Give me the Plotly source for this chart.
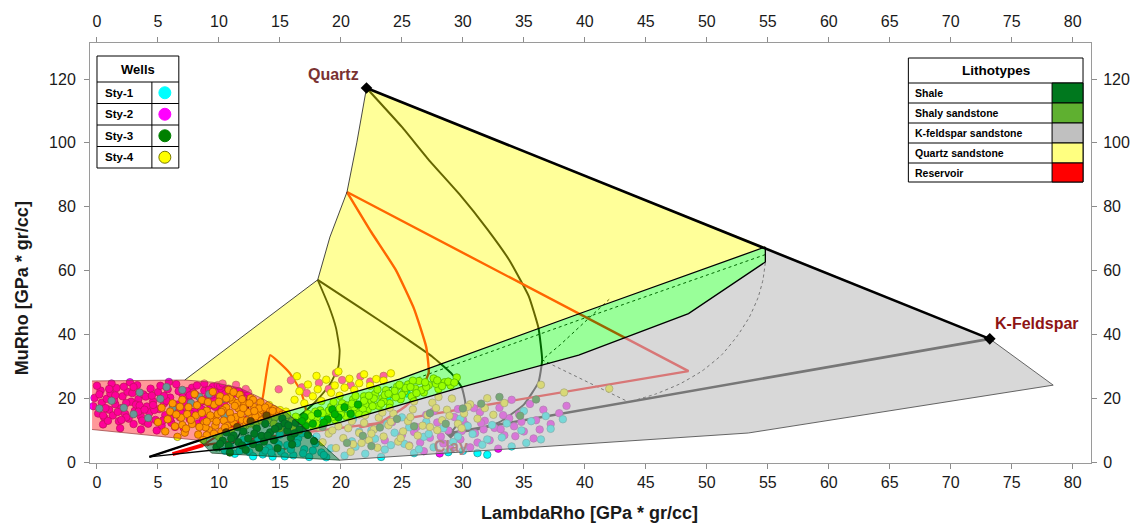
import plotly.graph_objects as go

# ---------------------------------------------------------------
# Mineral end-points in the LambdaRho / MuRho plane (GPa*gr/cc)
# ---------------------------------------------------------------
QUARTZ = (22.1, 117.2)
KFELDSPAR = (73.2, 38.6)
CLAY = (29.0, 9.1)

X_TICKS = list(range(0, 81, 5))
Y_TICKS = list(range(0, 121, 20))

# ---------------------------------------------------------------
# Lithotype polygons
# ---------------------------------------------------------------
reservoir_x = [-0.4, 7.2, 9.5, 11.7, 13.6, 15.5, 8.4, -0.4]
reservoir_y = [25.4, 25.7, 25.0, 23.2, 19.8, 15.7, 6.8, 10.2]

quartz_sand_x = [22.1, 54.8, 39.7, 24.8, 15.5, 13.6, 11.7, 9.5, 7.2, 18.1, 19.1, 20.5, 21.3, 22.1]
quartz_sand_y = [117.2, 67.4, 46.7, 26.0, 15.7, 19.8, 23.2, 25.0, 25.7, 57.1, 70.5, 84.6, 100.0, 117.2]

shaly_sand_x = [54.8, 39.7, 24.8, 15.5, 17.35, 20.0, 29.9, 39.5, 48.5, 54.8]
shaly_sand_y = [67.4, 46.7, 26.0, 15.7, 9.95, 12.5, 23.5, 33.5, 46.5, 62.7]

shale_x = [8.4, 15.5, 19.9, 9.4, 8.4]
shale_y = [6.8, 15.7, 0.6, 2.8, 6.8]

kfeld_sand_x = [54.8, 73.2, 78.4, 53.4, 19.9, 17.35, 20.0, 29.9, 39.5, 48.5, 54.8]
kfeld_sand_y = [67.4, 38.6, 24.1, 9.1, 0.6, 9.95, 12.5, 23.5, 33.5, 46.5, 62.7]

# Boundary lines of the shaly-sandstone wedge
wedge_top_x = [4.3, 8.4, 15.5, 24.8, 39.7, 54.8]
wedge_top_y = [1.6, 6.8, 15.7, 26.0, 46.7, 67.4]
wedge_bot_x = [4.3, 11.1, 17.4, 20.0, 29.9, 39.5, 48.5, 54.8, 54.8]
wedge_bot_y = [1.6, 4.4, 10.0, 12.5, 23.5, 33.5, 46.5, 62.7, 67.4]

# ---------------------------------------------------------------
# Template curves (black / red), partly seen through the fills
# ---------------------------------------------------------------
quartz_clay_x = [22.1, 25.0, 27.2, 29.7, 32.0, 33.8, 35.4, 36.2, 36.5, 36.2, 35.0, 33.0, 31.0, 29.0]
quartz_clay_y = [117.2, 105.0, 94.7, 84.0, 73.0, 63.3, 52.0, 42.0, 32.0, 25.0, 18.0, 12.5, 10.0, 9.1]

mid_clay_x = [18.1, 20.6, 23.1, 25.4, 27.5, 29.0, 29.9, 30.2, 29.9, 29.4, 29.0]
mid_clay_y = [57.1, 50.8, 44.5, 38.6, 33.0, 28.0, 23.5, 18.5, 14.0, 11.0, 9.1]

mid_shale_x = [18.1, 19.0, 19.6, 19.9, 19.8, 19.2, 18.3, 17.2, 15.8, 14.0, 12.0]
mid_shale_y = [57.1, 49.0, 42.0, 35.0, 30.0, 25.0, 20.5, 16.3, 12.5, 9.0, 6.0]

low_curve_x = [11.7, 12.2, 12.4, 12.2, 11.8, 11.2, 10.0]
low_curve_y = [23.2, 20.0, 17.0, 13.0, 9.5, 6.0, 3.5]

kfeld_clay_x = [KFELDSPAR[0], CLAY[0]]
kfeld_clay_y = [KFELDSPAR[1], CLAY[1]]

res_line_x = [20.5, 48.5, 23.1, 8.7]
res_line_y = [84.6, 28.5, 12.2, 5.3]

res_curve_x = [20.5, 22.5, 24.5, 26.0, 27.0, 27.2, 26.5, 25.3, 23.1, 21.5]
res_curve_y = [84.6, 72.0, 60.2, 48.0, 36.0, 28.0, 22.0, 17.5, 12.2, 10.8]

flame_x = [8.7, 11.0, 13.3, 13.6, 13.9, 14.2, 15.0, 15.8, 16.6, 17.0, 17.2, 16.6, 16.0, 14.8]
flame_y = [5.3, 11.0, 17.2, 20.4, 27.9, 33.5, 31.0, 27.9, 23.0, 18.8, 14.1, 9.1, 5.3, 3.2]

res_base_x = [6.2, 8.7]
res_base_y = [2.5, 5.3]

dot_mid_x = [54.8, 39.6, 24.8, 16.0, 9.0]
dot_mid_y = [65.0, 44.6, 24.3, 13.6, 5.0]
dot_arc_x = [54.8, 54.6, 54.2, 53.5, 52.5, 51.2, 49.6, 47.8, 45.8, 43.6]
dot_arc_y = [62.5, 57.0, 51.5, 45.5, 39.5, 33.5, 28.5, 24.5, 21.3, 18.8]
dot_inner_x = [42.0, 40.6, 39.3, 38.0, 36.5, 43.6]
dot_inner_y = [51.0, 46.0, 41.5, 36.8, 32.0, 18.8]

# ---------------------------------------------------------------
# Well log samples (LambdaRho, MuRho)
# ---------------------------------------------------------------
sty1_x = [1.2, 2.2, 3.5, 4.2, 5.2, 6.2, 7.0, 7.7, 8.4, 9.2, 10.3, 11.8, 3.0, 5.7, 0.2, 12.5, 10.5,
          10.5, 11.3, 11.9, 12.5, 13.0, 13.6, 14.1, 14.6, 15.1, 15.6, 16.1, 16.5, 17.0, 17.4, 17.9,
          18.4, 18.8, 19.2, 13.3, 15.0, 12.0, 16.8, 14.4, 18.0,
          10.9, 11.7, 12.8, 13.8, 14.9, 15.9, 16.9, 17.7, 18.6, 12.3, 14.3, 16.4, 13.2, 15.4,
          20.3, 21.2, 22.0, 22.8, 23.6, 24.4, 25.2, 26.0, 26.8, 27.6, 28.4, 29.2, 30.0, 30.8, 31.6,
          32.4, 33.2, 34.0, 34.8, 35.6, 36.4, 37.2, 38.2, 27.0, 25.0, 29.8, 32.0, 35.0, 23.8, 21.5,
          20.9, 22.5, 24.1, 25.6, 27.2, 28.8, 30.4, 32.0, 33.6, 35.2, 36.8, 26.4, 29.6, 31.2, 23.3,
          18.6, 20.6, 22.4, 23.8, 25.4, 21.0]
sty1_y = [19.2, 17.0, 21.8, 13.8, 19.8, 16.9, 22.6, 18.5, 20.4, 21.3, 19.7, 17.8, 15.0, 23.5, 16.8, 15.0, 14.5,
          3.5, 2.6, 4.8, 3.1, 5.9, 2.4, 4.4, 6.8, 3.2, 5.3, 2.1, 7.4, 4.0, 1.6, 5.8,
          3.0, 1.5, 4.3, 8.0, 8.6, 6.9, 9.0, 1.7, 8.0,
          4.8, 3.5, 1.8, 3.6, 5.5, 3.9, 2.7, 3.6, 2.2, 5.6, 2.9, 5.9, 6.8, 1.8,
          2.0, 4.8, 2.6, 7.3, 3.9, 9.2, 5.7, 2.8, 7.9, 4.6, 10.6, 6.3, 3.5, 8.8, 5.4,
          11.6, 7.7, 4.9, 9.9, 12.8, 7.1, 10.4, 13.4, 12.6, 14.0, 13.6, 2.3, 16.0, 11.9, 9.5,
          6.5, 9.9, 5.3, 10.9, 8.8, 3.1, 11.3, 7.1, 12.1, 6.0, 14.4, 4.0, 8.0, 2.8, 1.6,
          14.0, 15.5, 18.2, 19.8, 21.5, 13.5]

sty2_x = [-0.3, -0.2, 0.1, 0.3, 0.4, 0.6, 0.8, 1.0, 1.1, 1.3, 1.5, 1.6, 1.8, 2.0, 2.1, 2.3, 2.5, 2.6,
          2.8, 3.0, 3.1, 3.3, 3.4, 3.6, 3.8, 3.9, 4.1, 4.3, 4.4, 4.6, 4.8, 5.0, 5.1, 5.3, 5.5, 5.6,
          5.8, 6.0, 6.1, 6.3, 6.5, 6.6, 6.8, 7.0, 7.1, 7.3, 7.5, 7.6, 7.8, 8.0, 8.1, 8.3, 8.5, 8.6,
          8.8, 9.0, 9.1, 9.3, 9.5, 9.6, 9.8, 10.0, 10.2, 10.4, 10.6, 10.8, 11.0, 11.3, 11.6, 12.0,
          12.4, 0.5, 1.9, 3.6, 4.9, 2.7, 5.9, 0.0, 1.2, 2.4, 4.0, 6.9, 8.7, 3.2, 5.4, 7.4, 9.9, 6.4,
          0.2, 0.7, 1.4, 1.7, 2.2, 2.9, 3.5, 3.7, 4.5, 4.7, 5.2, 5.7, 6.2, 6.7, 7.2, 7.7, 8.2, 8.9,
          9.4, 9.7, 10.1, 10.5, 10.9, 11.4, 11.8, 12.2, 0.9, 1.5, 2.4, 3.0, 4.2, 5.5, 6.5, 7.9, 9.2,
          10.3, 0.5, 2.0, 3.4, 4.6, 6.0, 7.6, 8.8, 1.0, 3.9,
          25.0, 25.6, 26.2, 26.8, 27.3, 27.9, 28.4, 28.8, 29.3, 29.8, 30.2, 30.6, 31.0, 31.4, 31.8,
          32.2, 32.6, 33.0, 33.4, 33.8, 34.2, 34.6, 35.0, 35.5, 36.0, 36.6, 37.2, 37.9, 38.5, 27.0,
          28.1, 29.6, 31.2, 32.9, 34.0, 30.0, 26.0, 24.2, 23.6, 35.8, 29.0, 31.7, 33.3,
          26.5, 28.2, 29.9, 31.5, 33.1, 34.8, 36.3, 27.6, 30.9, 34.3,
          15.9, 16.8, 17.2, 18.2, 19.0, 20.1, 20.8, 21.6, 22.4, 23.5, 14.9, 19.6]
sty2_y = [17.5, 20.1, 15.2, 22.4, 18.6, 13.9, 19.8, 16.4, 21.5, 14.6, 18.1, 23.2, 12.8, 16.9, 20.6, 15.1, 22.0, 13.6,
          18.9, 11.9, 16.0, 24.1, 19.7, 14.3, 21.2, 12.6, 17.4, 15.5, 23.0, 19.0, 13.2, 21.9, 16.6, 11.4, 18.4, 14.7,
          22.8, 20.2, 12.3, 16.2, 24.4, 18.0, 14.0, 21.4, 10.8, 17.1, 19.6, 13.5, 23.3, 15.8, 21.0, 12.1, 18.7, 16.5,
          22.4, 20.0, 14.8, 17.8, 23.6, 19.3, 21.7, 16.9, 22.9, 18.5, 20.8, 23.0, 19.6, 21.5, 22.3, 20.4,
          21.8, 11.8, 10.6, 10.2, 9.9, 25.0, 25.1, 23.9, 24.6, 14.0, 20.5, 15.3, 13.3, 18.0, 13.0, 22.2, 24.1, 11.0,
          21.2, 16.9, 19.4, 15.7, 23.6, 21.6, 17.7, 13.0, 20.8, 16.3, 23.9, 19.2, 14.9, 22.2, 18.8, 15.1, 24.0, 19.0,
          21.1, 17.3, 23.8, 21.3, 20.3, 24.2, 21.0, 22.9, 12.9, 20.9, 18.5, 23.5, 12.0, 20.7, 17.4, 21.8, 22.7,
          24.6, 14.6, 13.2, 15.8, 17.9, 13.6, 20.9, 24.6, 22.9, 16.4,
          8.5, 5.2, 11.0, 3.4, 7.6, 12.4, 5.8, 9.9, 14.1, 7.1, 11.8, 4.6, 9.0, 15.6, 12.9,
          6.8, 10.7, 17.0, 8.4, 13.7, 11.2, 15.0, 9.6, 18.2, 13.1, 16.4, 11.9, 15.3, 17.6, 14.8,
          2.7, 16.6, 6.1, 4.2, 19.5, 13.3, 9.4, 12.5, 6.8, 7.4, 4.1, 10.2, 14.7,
          6.1, 8.0, 9.7, 12.2, 10.3, 12.6, 10.2, 15.9, 16.9, 8.1,
          25.6, 23.4, 21.6, 24.8, 22.9, 25.7, 24.1, 26.8, 25.2, 27.0, 22.8, 27.9]

sty3_x = [9.8, 10.3, 10.8, 11.2, 11.6, 12.0, 12.4, 12.8, 13.1, 13.5, 13.8, 14.2, 14.5, 14.9, 15.2,
          15.6, 15.9, 16.3, 16.6, 17.0, 17.3, 17.7, 18.1, 18.5, 18.9, 19.3, 19.8, 20.3, 20.8, 21.4,
          11.5, 12.6, 13.9, 10.6, 16.0, 14.8, 17.8,
          10.1, 11.0, 11.9, 12.9, 13.7, 14.6, 15.4, 16.2, 17.1, 12.2, 13.3, 14.0, 15.7, 16.8, 10.9,
          18.6, 19.5,
          20.5, 21.8, 23.2, 24.6, 26.0, 27.3, 28.6, 30.0, 31.5, 33.0, 34.7, 36.0, 22.5]
sty3_y = [4.6, 6.7, 5.1, 8.3, 6.2, 9.6, 7.4, 5.6, 10.5, 8.2, 12.0, 9.3, 6.9, 11.1, 13.6,
          9.8, 7.6, 12.3, 10.2, 14.1, 8.5, 12.0, 15.2, 11.0, 13.4, 16.5, 14.0, 17.2, 15.1, 18.0,
          11.0, 12.8, 14.6, 9.3, 5.5, 4.3, 6.6,
          5.7, 7.4, 5.2, 8.9, 6.4, 10.4, 12.1, 9.0, 11.3, 3.8, 4.5, 8.3, 11.5, 12.8, 3.0,
          12.4, 15.0,
          6.0, 8.2, 10.8, 13.5, 11.2, 15.3, 12.0, 16.8, 18.3, 20.4, 14.5, 19.6, 5.0]

sty4_x = [5.0, 5.6, 6.0, 6.4, 6.9, 7.2, 7.5, 7.8, 8.1, 8.3, 8.6, 8.8, 9.0, 9.2, 9.4, 9.6, 9.7, 9.9,
          10.1, 10.2, 10.4, 10.6, 10.7, 10.9, 11.1, 11.2, 11.4, 11.6, 11.7, 11.9, 12.1, 12.2, 12.4,
          12.6, 12.7, 12.9, 13.1, 13.2, 13.4, 13.6, 13.7, 13.9, 14.1, 14.3, 14.5, 14.7, 15.0, 15.2,
          15.5, 9.5, 10.8, 8.0, 7.0, 6.2, 5.3, 10.0, 11.0, 12.0, 13.0, 9.0, 8.7, 14.0, 6.6, 11.5, 12.8, 7.4,
          8.9, 9.3, 9.8, 10.3, 10.5, 11.0, 11.3, 11.8, 12.3, 12.5, 13.0, 13.3, 13.8, 14.2, 14.6,
          9.1, 10.0, 10.9, 11.9, 12.9, 8.4, 7.7, 7.0, 6.5, 5.8, 9.6, 10.6, 11.6, 12.6, 13.5, 14.4,
          8.2, 9.0, 7.3, 11.2, 12.0, 10.2, 13.9, 6.8, 8.6,
          16.2, 16.6, 17.0, 17.3, 17.7, 18.1, 18.4, 18.8, 19.2, 19.5, 19.9, 20.3, 20.7, 21.1, 21.5,
          21.9, 22.4, 22.9, 23.5, 24.1, 18.0, 19.8, 16.4,
          14.5, 15.0, 15.4, 15.9, 16.3, 16.6, 17.0, 17.3, 17.7, 18.0, 18.3, 18.6, 18.9, 19.2, 19.5,
          19.8, 20.1, 20.4, 20.7, 21.0, 21.3, 21.6, 21.9, 22.2, 22.5, 22.8, 23.1, 23.4, 23.7, 24.0,
          24.3, 24.6, 24.9, 25.2, 25.5, 25.8, 26.1, 26.4, 26.8, 27.2, 27.6, 28.0, 28.5, 29.0, 29.5,
          16.0, 17.5, 19.0, 20.5, 22.0, 23.5, 25.0, 18.2, 21.8, 24.5, 26.6, 15.6, 17.9, 20.0, 22.6,
          23.0, 25.9, 27.8, 19.4, 21.2,
          16.8, 17.6, 18.5, 19.3, 20.2, 21.1, 21.9, 22.7, 23.6, 24.4, 25.3, 26.2, 27.0, 27.9, 28.8,
          16.1, 17.1, 18.9, 19.9, 20.9, 22.3, 23.3, 24.8, 25.7, 26.9, 28.3, 29.3, 21.5, 23.9, 18.0,
          18.5, 19.0, 19.6, 20.2, 20.6, 21.0, 21.5, 21.9, 22.3, 22.7, 23.1, 23.5, 23.9, 24.3, 24.7,
          25.1, 25.5, 25.9, 26.3, 26.7, 27.1, 27.5, 27.9, 28.3, 28.7, 29.1, 29.6, 30.1, 30.6, 31.2,
          31.8, 32.5, 33.4, 36.4, 38.3, 42.0, 20.8, 23.0, 25.6, 19.8, 22.0, 24.0, 26.0, 28.0,
          19.3, 20.9, 22.5, 24.1, 25.7, 27.3, 28.9, 30.4, 32.0, 21.7, 24.9, 27.8, 23.4, 29.9]
sty4_y = [12.5, 9.6, 15.8, 11.2, 13.9, 9.2, 17.2, 11.9, 14.6, 8.6, 19.4, 12.2, 16.1, 10.0, 13.8, 18.0, 11.4, 15.0,
          20.6, 9.6, 13.0, 17.1, 11.3, 15.4, 19.2, 12.4, 14.1, 16.8, 21.1, 13.2, 18.3, 11.5, 15.6,
          20.0, 13.7, 17.2, 12.6, 14.9, 18.7, 16.2, 13.5, 15.3, 17.9, 14.5, 16.6, 15.2, 16.3, 14.9,
          15.8, 22.0, 22.6, 21.3, 19.5, 18.4, 17.0, 7.9, 9.7, 10.4, 11.5, 8.4, 6.9, 13.0, 7.9, 18.5, 19.5, 15.0,
          10.9, 14.6, 12.7, 16.2, 10.8, 13.6, 17.6, 15.1, 13.0, 18.4, 14.3, 16.8, 17.1, 15.9, 14.0,
          18.8, 18.9, 20.2, 19.7, 16.0, 11.0, 13.2, 11.6, 14.9, 13.4, 8.9, 19.9, 10.9, 12.1, 13.0, 16.0,
          17.8, 12.7, 10.5, 21.9, 16.9, 15.7, 14.2, 17.3, 15.4,
          19.5, 22.2, 18.4, 24.3, 20.6, 22.8, 19.1, 25.8, 21.7, 24.0, 20.8, 23.3, 26.1, 22.6, 24.7,
          27.5, 23.9, 26.0, 25.5, 27.8, 27.0, 28.4, 26.9,
          12.0, 10.6, 13.4, 11.3, 14.2, 9.9, 12.7, 15.1, 11.4, 13.9, 16.2, 12.2, 14.8, 17.3, 13.3,
          15.9, 18.4, 14.4, 16.8, 19.6, 15.6, 18.0, 20.6, 16.4, 19.1, 21.3, 17.6, 20.0, 22.5, 18.4,
          21.2, 23.6, 19.7, 22.1, 24.3, 20.6, 23.0, 25.4, 21.8, 24.1, 26.2, 22.9, 25.0, 24.0, 26.5,
          12.8, 13.0, 16.1, 17.7, 18.0, 19.0, 21.0, 11.0, 16.5, 20.3, 22.5, 14.8, 15.8, 15.0, 17.5,
          22.7, 25.5, 24.5, 18.8, 20.7,
          13.3, 14.4, 15.3, 14.1, 16.9, 17.2, 19.2, 19.9, 21.0, 22.3, 23.2, 21.6, 23.5, 25.6, 25.2,
          10.8, 11.6, 13.0, 16.9, 18.3, 20.8, 18.3, 24.2, 23.5, 25.0, 23.8, 24.9, 14.9, 21.4, 12.0,
          6.2, 8.9, 4.4, 7.5, 10.6, 5.6, 9.1, 12.3, 6.8, 10.2, 13.9, 8.0, 11.5, 15.2, 6.4,
          9.6, 12.8, 16.5, 8.3, 11.4, 14.7, 18.6, 10.0, 13.1, 16.4, 19.9, 12.0, 15.2, 18.1, 13.6,
          16.9, 14.8, 18.5, 24.2, 21.8, 23.0, 3.2, 4.5, 5.0, 11.2, 14.7, 17.0, 19.0, 20.4,
          9.9, 12.8, 8.9, 12.6, 14.1, 11.0, 14.5, 17.3, 20.0, 6.0, 7.5, 16.9, 15.5, 10.6]

WELLS = ["Sty-1", "Sty-2", "Sty-3", "Sty-4"]
WELL_COLORS = ["#00ffff", "#ff00ff", "#008000", "#ffff00"]
WELL_EDGES = ["#1f8f8f", "#8f1f8f", "#0a3a0a", "#7a7a00"]

LITHOTYPES = ["Shale", "Shaly sandstone", "K-feldspar sandstone", "Quartz sandstone", "Reservoir"]
LITHO_COLORS = ["#00781e", "#5fb030", "#c0c0c0", "#ffff80", "#ff0000"]

FONT = "Liberation Sans, Arial, sans-serif"

fig = go.Figure()


def line(x, y, color, width, dash="solid"):
    fig.add_trace(go.Scatter(x=x, y=y, mode="lines", hoverinfo="skip", showlegend=False,
                             line=dict(color=color, width=width, dash=dash, shape="spline",
                                       smoothing=0.4)))


def straight(x, y, color, width, dash="solid"):
    fig.add_trace(go.Scatter(x=x, y=y, mode="lines", hoverinfo="skip", showlegend=False,
                             line=dict(color=color, width=width, dash=dash)))


def fill(x, y, rgba):
    fig.add_trace(go.Scatter(x=x, y=y, mode="lines", fill="toself", fillcolor=rgba,
                             line=dict(width=0), hoverinfo="skip", showlegend=False))


# --- template curves, drawn first so the lithotype fills tint them ---
straight(dot_mid_x, dot_mid_y, "black", 1, "dot")
line(dot_arc_x, dot_arc_y, "black", 1, "dot")
straight(dot_inner_x, dot_inner_y, "black", 1, "dot")
straight(kfeld_clay_x, kfeld_clay_y, "black", 2.6)
line(quartz_clay_x, quartz_clay_y, "black", 2)
line(mid_clay_x, mid_clay_y, "black", 2)
line(mid_shale_x, mid_shale_y, "black", 1.8)
line(low_curve_x, low_curve_y, "black", 1.6)
straight(res_line_x, res_line_y, "#ff0000", 2.4)
line(res_curve_x, res_curve_y, "#ff0000", 2.4)
line(flame_x, flame_y, "#ff0000", 2.2)
straight(res_base_x, res_base_y, "#ff0000", 4)

fig.add_trace(go.Scatter(x=[CLAY[0]], y=[CLAY[1]], mode="markers", hoverinfo="skip", showlegend=False,
                         marker=dict(symbol="diamond", size=9, color="black")))

# --- well samples ---
for name, xs, ys, col, edge in [
    ("Sty-2", sty2_x, sty2_y, WELL_COLORS[1], WELL_EDGES[1]),
    ("Sty-1", sty1_x, sty1_y, WELL_COLORS[0], WELL_EDGES[0]),
    ("Sty-4", sty4_x, sty4_y, WELL_COLORS[3], WELL_EDGES[3]),
    ("Sty-3", sty3_x, sty3_y, WELL_COLORS[2], WELL_EDGES[2]),
]:
    fig.add_trace(go.Scatter(x=xs, y=ys, mode="markers", name=name, showlegend=False,
                             marker=dict(size=7.5, color=col, line=dict(color=edge, width=0.7))))

# --- translucent lithotype fills ---
fill(kfeld_sand_x, kfeld_sand_y, "rgba(192,192,192,0.62)")
fill(shaly_sand_x, shaly_sand_y, "rgba(0,255,0,0.40)")
fill(shale_x, shale_y, "rgba(0,115,60,0.58)")
fill(reservoir_x, reservoir_y, "rgba(255,0,0,0.40)")
fill(quartz_sand_x, quartz_sand_y, "rgba(255,255,0,0.40)")

# --- polygon outlines ---
straight(reservoir_x, reservoir_y, "rgba(150,60,60,0.8)", 0.9)
straight(shale_x, shale_y, "rgba(20,60,30,0.8)", 0.9)
straight(kfeld_sand_x[1:5], kfeld_sand_y[1:5], "#555555", 0.9)
straight(quartz_sand_x[8:], quartz_sand_y[8:], "#333333", 0.9)
straight(wedge_top_x, wedge_top_y, "black", 1.3)
straight(wedge_bot_x, wedge_bot_y, "black", 1.3)
straight(wedge_top_x[:2], wedge_top_y[:2], "black", 2.4)
straight([QUARTZ[0], KFELDSPAR[0]], [QUARTZ[1], KFELDSPAR[1]], "black", 2.6)

fig.add_trace(go.Scatter(x=[QUARTZ[0], KFELDSPAR[0]], y=[QUARTZ[1], KFELDSPAR[1]], mode="markers",
                         hoverinfo="skip", showlegend=False,
                         marker=dict(symbol="diamond", size=9, color="black")))

# helper trace so the mirrored axes are drawn
fig.add_trace(go.Scatter(x=[0], y=[0], xaxis="x2", yaxis="y2", mode="markers",
                         marker=dict(opacity=0), hoverinfo="skip", showlegend=False))

# ---------------------------------------------------------------
# Layout: plot area 90..1093 px wide, 43..463 px tall
# ---------------------------------------------------------------
L, R, T, B = 90, 49, 43, 64
W, H = 1142, 527
PW, PH = W - L - R, H - T - B


def px(xp):
    return (xp - L) / PW


def py(yp):
    return (H - B - yp) / PH


shapes = []
annots = []

# --- mineral labels ---
annots.append(dict(x=QUARTZ[0], y=QUARTZ[1], text="<b>Quartz</b>", showarrow=False,
                   xanchor="right", yanchor="bottom", xshift=-6, yshift=3,
                   font=dict(family=FONT, size=16, color="#7a3232")))
annots.append(dict(x=KFELDSPAR[0], y=KFELDSPAR[1], text="<b>K-Feldspar</b>", showarrow=False,
                   xanchor="left", yanchor="bottom", xshift=3, yshift=5,
                   font=dict(family=FONT, size=16, color="#8e1414")))
annots.append(dict(x=CLAY[0], y=CLAY[1], text="<b>Clay</b>", showarrow=False,
                   xanchor="center", yanchor="top", yshift=-3,
                   font=dict(family=FONT, size=16, color="#b08484")))


def rect(x0, y0, x1, y1, fillc="white", lw=1):
    shapes.append(dict(type="rect", xref="paper", yref="paper", x0=px(x0), x1=px(x1),
                       y0=py(y1), y1=py(y0), line=dict(color="black", width=lw), fillcolor=fillc,
                       layer="above"))


def hline(x0, x1, yp):
    shapes.append(dict(type="line", xref="paper", yref="paper", x0=px(x0), x1=px(x1),
                       y0=py(yp), y1=py(yp), line=dict(color="black", width=1), layer="above"))


def text(xp, yp, s, size, anchor="left"):
    annots.append(dict(xref="paper", yref="paper", x=px(xp), y=py(yp), text="<b>%s</b>" % s,
                       showarrow=False, xanchor=anchor, yanchor="middle",
                       font=dict(family=FONT, size=size, color="black")))


# Wells table
wx0, wx1, wdiv = 97, 179, 152
wrows = [56, 82, 103.5, 125, 146.5, 168]
rect(wx0, wrows[0], wx1, wrows[-1])
for r in wrows[1:-1]:
    hline(wx0, wx1, r)
shapes.append(dict(type="line", xref="paper", yref="paper", x0=px(wdiv), x1=px(wdiv),
                   y0=py(wrows[1]), y1=py(wrows[-1]), line=dict(color="black", width=1), layer="above"))
text((wx0 + wx1) / 2, (wrows[0] + wrows[1]) / 2, "Wells", 13, "center")
for i, (nm, col, edge) in enumerate(zip(WELLS, WELL_COLORS, WELL_EDGES)):
    cy = (wrows[i + 1] + wrows[i + 2]) / 2
    text(wx0 + 6, cy, nm, 11.5)
    shapes.append(dict(type="circle", xref="paper", yref="paper", x0=px(165 - 6), x1=px(165 + 6),
                       y0=py(cy + 6), y1=py(cy - 6), fillcolor=col,
                       line=dict(color=edge if i == 3 else col, width=1), layer="above"))

# Lithotypes table
lx0, lx1, ldiv = 910, 1085, 1054
lrows = [58, 83, 103, 123, 143, 163, 182]
rect(lx0, lrows[0], lx1, lrows[-1])
for r in lrows[1:-1]:
    hline(lx0, lx1, r)
text((lx0 + lx1) / 2, (lrows[0] + lrows[1]) / 2, "Lithotypes", 13.5, "center")
for i, (nm, col) in enumerate(zip(LITHOTYPES, LITHO_COLORS)):
    r0, r1 = lrows[i + 1], lrows[i + 2]
    rect(ldiv, r0, lx1, r1, fillc=col)
    text(lx0 + 5, (r0 + r1) / 2, nm, 10.5)

# Axis titles
annots.append(dict(xref="paper", yref="paper", x=px(590), y=py(513), text="<b>LambdaRho [GPa * gr/cc]</b>",
                   showarrow=False, xanchor="center", yanchor="middle",
                   font=dict(family=FONT, size=18, color="#1a1a1a")))
annots.append(dict(xref="paper", yref="paper", x=px(22), y=py(288), text="<b>MuRho [GPa * gr/cc]</b>",
                   showarrow=False, xanchor="center", yanchor="middle", textangle=-90,
                   font=dict(family=FONT, size=18, color="#1a1a1a")))

XR = [-0.57, 81.5]
YR = [-0.3, 131.3]
axis_common = dict(showgrid=False, zeroline=False, ticks="outside", ticklen=5, tickcolor="#8c8c8c",
                   showline=True, linecolor="#9a9a9a", linewidth=1,
                   tickfont=dict(family=FONT, size=16, color="#1a1a1a"))

fig.update_layout(
    width=W, height=H, margin=dict(l=L, r=R, t=T, b=B),
    paper_bgcolor="white", plot_bgcolor="white", showlegend=False,
    xaxis=dict(range=XR, tickvals=X_TICKS, **axis_common),
    xaxis2=dict(range=XR, tickvals=X_TICKS, overlaying="x", side="top", anchor="y",
                ticklabelstandoff=4, **axis_common),
    yaxis=dict(range=YR, tickvals=Y_TICKS, ticklabelstandoff=5, **axis_common),
    yaxis2=dict(range=YR, tickvals=Y_TICKS, overlaying="y", side="right", anchor="x",
                ticklabelstandoff=3, **axis_common),
    shapes=shapes, annotations=annots,
)

fig.write_html("out.html")
